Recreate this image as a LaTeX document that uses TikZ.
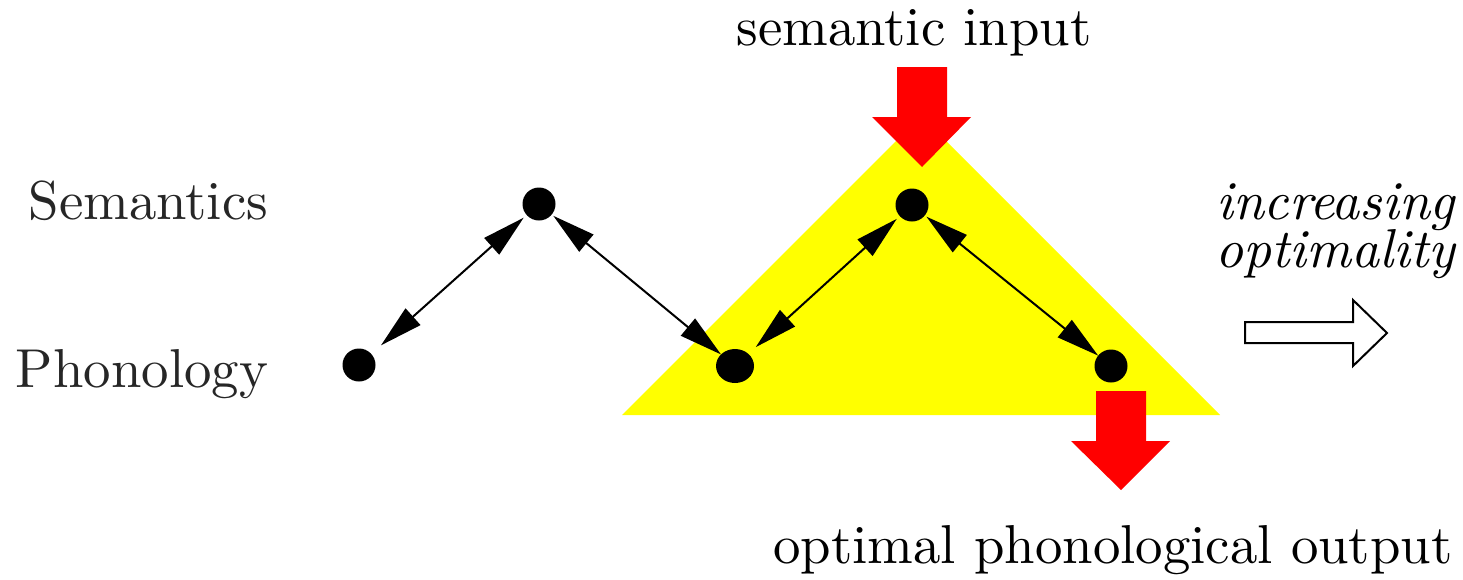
\documentclass[tikz,border=0pt]{standalone}
\usetikzlibrary{arrows.meta,shapes.geometric}
\definecolor{yel}{RGB}{255,255,0}
\definecolor{rd}{RGB}{255,0,0}
\newcommand{\lbltext}[1]{\scalebox{2.74}{\fontsize{10}{12}\selectfont #1}}
\begin{document}
\begin{tikzpicture}[x=0.5pt,y=-0.5pt,
  lbl/.style={inner sep=0pt,outer sep=0pt},
  dot/.style={circle,fill=black,inner sep=0pt,outer sep=0pt,minimum size=16.5pt},
  link/.style={line width=1pt,{Triangle[length=21.5pt,width=11pt]}-{Triangle[length=21.5pt,width=11pt]}},
  bigarrow/.style={fill=rd,draw=none},
  openarrow/.style={draw=black,fill=white,line width=1pt,line join=miter}]
\useasboundingbox (0,0) rectangle (1463,579);
% yellow triangle
\fill[yel] (622,415) -- (1220,415) -- (921,116) -- cycle;
% red arrows
\fill[bigarrow] (897,67) -- (947,67) -- (947,117) -- (971,117) -- (922,167) -- (872,117) -- (897,117) -- cycle;
\fill[bigarrow] (1096,391) -- (1146,391) -- (1146,441) -- (1170,441) -- (1121,490) -- (1071,441) -- (1096,441) -- cycle;
% open arrow
\draw[openarrow] (1245,322) -- (1353,322) -- (1353,300) -- (1387,333) -- (1353,366) -- (1353,343) -- (1245,343) -- cycle;
% dots
\node[dot] (a) at (359,365) {};
\node[dot] (b) at (539,204) {};
\node[ellipse,fill=black,inner sep=0pt,outer sep=0pt,minimum width=19pt,minimum height=17pt] (c) at (735,366) {};
\node[dot] (d) at (912,205) {};
\node[dot] (e) at (1111,366) {};
% links
\draw[link,shorten <=6.5pt,shorten >=2pt] (a) -- (b);
\draw[link,shorten <=1pt] (b) -- (c);
\draw[link,shorten <=5pt,shorten >=2pt] (c) -- (d);
\draw[link,shorten <=1pt] (d) -- (e);
% labels
\node[lbl,anchor=base east,text=black!85] (sem) at (268,219) {\lbltext{Semantics}};
\node[lbl,anchor=base east,text=black!85] (pho) at (268,387) {\lbltext{Phonology}};
\node[lbl,anchor=base] (inp) at (914,45) {\lbltext{semantic input}};
\node[lbl,anchor=base] (out) at (1113,563) {\lbltext{optimal phonological output}};
\node[lbl,anchor=base east] (inc) at (1455,219) {\lbltext{\itshape increasing}};
\node[lbl,anchor=base east] (opt) at (1455,267) {\lbltext{\itshape optimality}};
\end{tikzpicture}
\end{document}
